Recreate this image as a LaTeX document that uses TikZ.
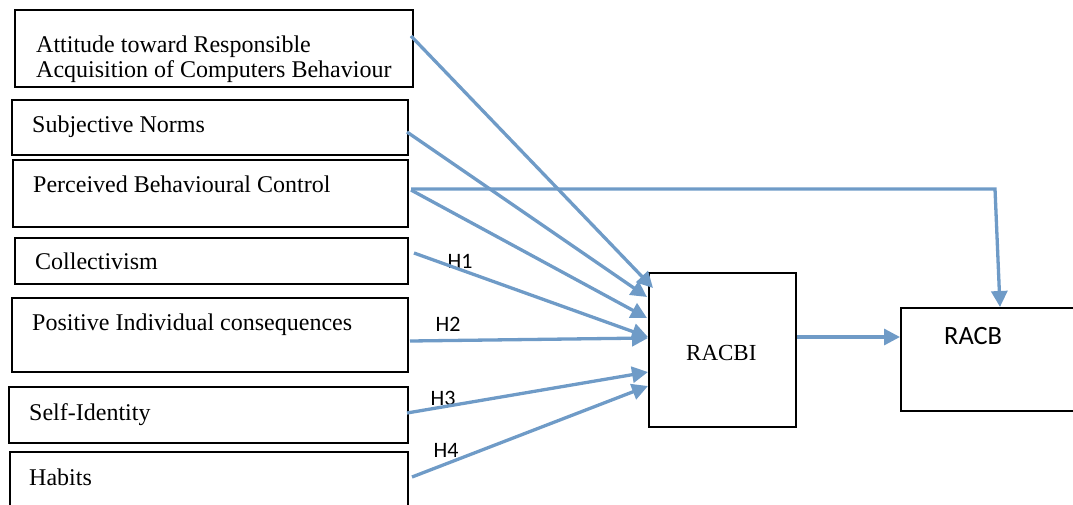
\documentclass[tikz,border=0pt]{standalone}
\usepackage{fontspec}
\setmainfont{Liberation Serif}
\newfontfamily\calfont{Carlito}
\usetikzlibrary{arrows.meta,calc}
\definecolor{arrowblue}{RGB}{111,155,199}
\tikzset{
  box/.style={draw=black, line width=2.2pt, rectangle, inner sep=0pt, anchor=north west},
  txt/.style={anchor=base west, inner sep=0pt, font=\fontsize{24}{25}\selectfont},
  hlab/.style={inner sep=0pt, font=\calfont\fontsize{22}{24}\selectfont},
  arr/.style={draw=arrowblue, line width=3.3pt, -{Triangle[length=16pt,width=16pt]}}
}
\begin{document}
\begin{tikzpicture}[x=1pt,y=-1pt]
\useasboundingbox (0,0) rectangle (1073,504);
% left boxes
\node[box, minimum width=398pt, minimum height=77pt] (att) at (14,9) {};
\node[box, minimum width=396pt, minimum height=55pt] (sn) at (11,99) {};
\node[box, minimum width=395pt, minimum height=67pt] (pbc) at (12,159) {};
\node[box, minimum width=393pt, minimum height=46pt] (col) at (14,237) {};
\node[box, minimum width=396pt, minimum height=74pt] (pic) at (11,297) {};
\node[box, minimum width=399pt, minimum height=56pt] (si) at (8,386) {};
\node[box, minimum width=398pt, minimum height=60pt] (hab) at (9,451) {};
% right boxes
\node[box, minimum width=147pt, minimum height=154pt] (racbi) at (648,272) {};
\node[box, minimum width=180pt, minimum height=103pt] (racb) at (900,307) {};
% texts
\node[txt] (t1a) at (36,52) {Attitude toward Responsible};
\node[txt] (t1b) at (36,77) {Acquisition of Computers Behaviour};
\node[txt] (t2) at (32,132) {Subjective Norms};
\node[txt] (t3) at (33,192) {Perceived Behavioural Control};
\node[txt] (t4) at (35,269) {Collectivism};
\node[txt] (t5) at (32,330) {Positive Individual consequences};
\node[txt] (t6) at (29,420) {Self-Identity};
\node[txt] (t7) at (29,485) {Habits};
\node[anchor=base west, inner sep=0pt, font=\fontsize{23}{25}\selectfont] (t8) at (686,360) {RACBI};
\node[anchor=base west, inner sep=0pt, font=\calfont\fontsize{26.4}{28}\selectfont] (t9) at (944,344) {RACB};
% H labels
\node[hlab] (h1) at (460,261) {H1};
\node[hlab] (h2) at (448,324) {H2};
\node[hlab] (h3) at (443,398) {H3};
\node[hlab] (h4) at (446,450) {H4};
% connector endpoints
\coordinate (s1) at (411,36);
\coordinate (s2) at (407,132);
\coordinate (s3) at (411,190);
\coordinate (s3b) at (411,189);
\coordinate (s4) at (414,253);
\coordinate (s5) at (410,341);
\coordinate (s6) at (407,413);
\coordinate (s7) at (412,477);
\coordinate (sr) at (797,337);
\coordinate (e1) at (653,288);
\coordinate (e2) at (647,297);
\coordinate (e3) at (647,318);
\coordinate (e4) at (648,337);
\coordinate (e5) at (648,338);
\coordinate (e6) at (648,372);
\coordinate (e7) at (648,386);
\coordinate (er) at (900,337);
\coordinate (corner) at (995,189);
\coordinate (eb) at (1000,307);
\draw[arr] (s1) -- (e1);
\draw[arr] (s2) -- (e2);
\draw[arr] (s3) -- (e3);
\draw[arr] (s4) -- (e4);
\draw[arr] (s5) -- (e5);
\draw[arr] (s6) -- (e6);
\draw[arr] (s7) -- (e7);
\draw[arr] (sr) -- (er);
\draw[arr] (s3b) -- (corner) -- (eb);
\end{tikzpicture}
\end{document}
